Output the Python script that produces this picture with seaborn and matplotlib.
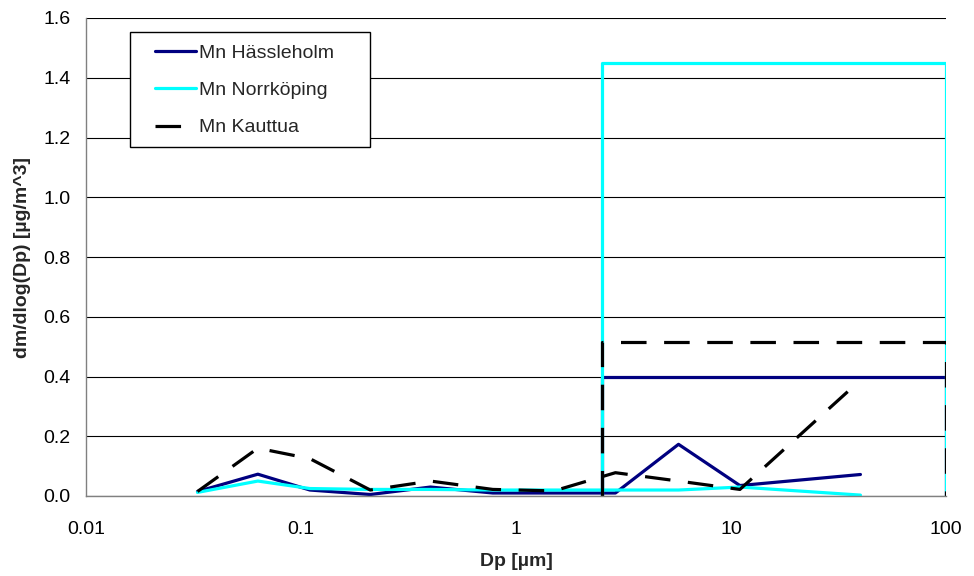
import matplotlib
matplotlib.use("Agg")
import matplotlib.pyplot as plt
from matplotlib.patches import Rectangle
import seaborn as sns
import numpy as np

sns.set_theme(style="white")
plt.rcParams['font.family'] = ['Liberation Sans', 'DejaVu Sans']

# Data
dp = [0.033, 0.063, 0.11, 0.21, 0.40, 0.78, 1.5, 2.9, 5.7, 11, 40]
hassleholm = [0.015, 0.073, 0.02, 0.005, 0.03, 0.01, 0.01, 0.01, 0.173, 0.035, 0.072]
norrkoping = [0.012, 0.05, 0.025, 0.022, 0.022, 0.02, 0.02, 0.02, 0.02, 0.03, 0.003]
kauttua = [0.015, 0.16, 0.125, 0.02, 0.05, 0.022, 0.017, 0.078, 0.05, 0.022, 0.388]

box_x = [2.5, 2.5, 100, 100]
box_hassleholm = 0.40
box_norrkoping = 1.45
box_kauttua = 0.515

labels = ["Mn Hässleholm", "Mn Norrköping", "Mn Kauttua"]
colors = ["#000080", "#00FFFF", "#000000"]
xtick_vals = [0.01, 0.1, 1, 10, 100]
xtick_labels = ["0.01", "0.1", "1", "10", "100"]

fig = plt.figure(figsize=(9.74, 5.76), dpi=100)
ax = fig.add_axes([86/974, 1-496/576, (946-86)/974, (496-18)/576])

lw = 2.3
DASH = (8, 5.5)
series = [(hassleholm, box_hassleholm), (norrkoping, box_norrkoping), (kauttua, box_kauttua)]
for i, ((vals, bh), lab, col) in enumerate(zip(series, labels, colors)):
    sns.lineplot(x=dp, y=vals, ax=ax, color=col, linewidth=lw, label=lab,
                 sort=False, estimator=None, errorbar=None)
    sns.lineplot(x=box_x, y=[0, bh, bh, 0], ax=ax, color=col, linewidth=lw,
                 sort=False, estimator=None, errorbar=None, legend=False)

for ln in ax.get_lines()[4:6]:
    ln.set_dashes(DASH)

ax.set_xscale("log")
ax.set_xlim(0.01, 100)
ax.set_ylim(0, 1.6)
ax.set_xticks(xtick_vals)
ax.set_xticklabels(xtick_labels)
ax.xaxis.set_minor_locator(matplotlib.ticker.NullLocator())
yt = np.round(np.arange(0, 1.61, 0.2), 1)
ax.set_yticks(yt)
ax.set_yticklabels([f"{v:.1f}" for v in yt])

ax.yaxis.grid(True, color="#000000", linewidth=0.8)
ax.set_axisbelow(True)
for s in ["top", "right"]:
    ax.spines[s].set_visible(False)
for s in ["left", "bottom"]:
    ax.spines[s].set_color("#808080")
    ax.spines[s].set_linewidth(1.0)

ax.tick_params(axis="both", which="major", labelsize=14, colors="#000000",
               length=5, width=1, direction="out", color="#808080")
ax.tick_params(axis="x", pad=13)
ax.tick_params(axis="y", pad=6)

ax.set_xlabel("Dp [µm]", fontsize=14, fontweight="bold", labelpad=11)
ax.set_ylabel("dm/dlog(Dp) [µg/m^3]", fontsize=14, fontweight="bold", labelpad=9)

# legend frame
frame = Rectangle((130/974, 1-147/576), 240/974, 115/576,
                  transform=fig.transFigure, fill=True, facecolor="white",
                  edgecolor="#000000", linewidth=1.0, zorder=4, clip_on=False)
ax.add_patch(frame)
leg = ax.legend(loc="upper left", bbox_to_anchor=(155/974, 1-44/576),
                bbox_transform=fig.transFigure, frameon=False, fontsize=14,
                handlelength=2.1, handletextpad=0.15, borderpad=0, borderaxespad=0,
                labelspacing=1.02)
leg.set_zorder(6)
for h in leg.get_lines():
    h.set_linewidth(lw)
leg.get_lines()[2].set_dashes(DASH)

fig.savefig("out.png", dpi=100)
